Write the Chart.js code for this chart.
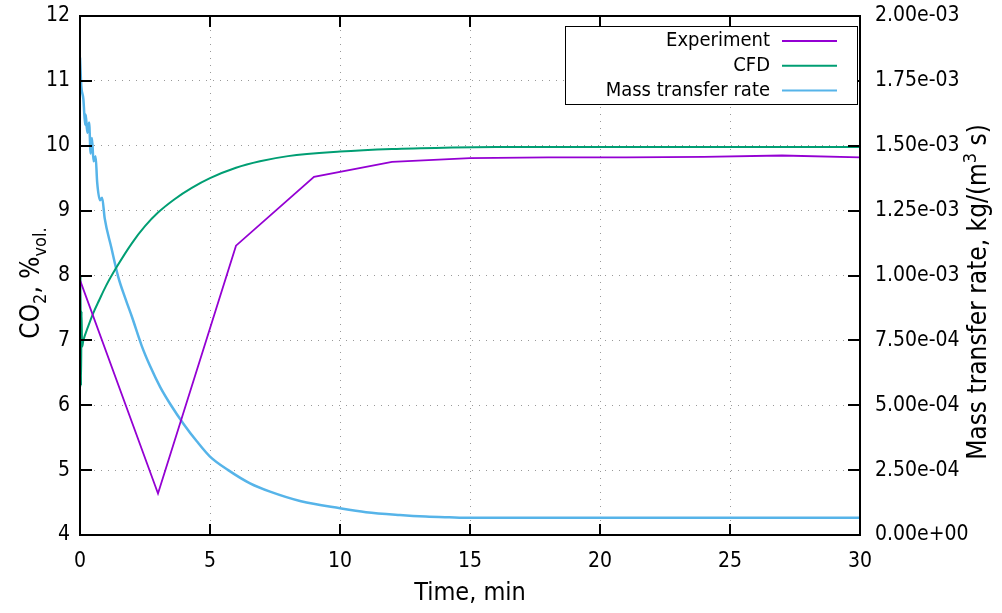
<!DOCTYPE html>
<html>
<head>
<meta charset="utf-8">
<script src="https://cdn.jsdelivr.net/npm/chart.js@4"></script>
<style>
  html, body { margin: 0; padding: 0; background: #fff; }
  #wrap { width: 1002px; height: 613px; }
</style>
</head>
<body>
<div id="wrap"><canvas id="chart" width="1002" height="613"></canvas></div>
<script>
// Experiment, CO2 %vol. (every 3 min)
const timeExp = [0, 3, 6, 9, 12, 15, 18, 21, 24, 27, 30];
const co2Exp = [7.93, 4.64, 8.46, 9.52, 9.75, 9.81, 9.82, 9.82, 9.83, 9.85, 9.82];

// CFD, CO2 %vol.
const timeCfd = [0, 0.02, 0.04, 0.06, 0.08, 0.13, 0.3, 0.51, 0.75, 1.0, 1.41, 2.0, 2.5, 3.0, 3.65, 4.3, 5.0, 6.0, 6.92, 8.0, 10.0, 12.0, 14.0, 16.0, 30.0];
const co2Cfd = [6.28, 8.0, 6.3, 7.45, 6.9, 7.0, 7.2, 7.42, 7.63, 7.84, 8.13, 8.5, 8.76, 8.97, 9.18, 9.35, 9.5, 9.66, 9.76, 9.84, 9.91, 9.95, 9.97, 9.98, 9.98];

// Mass transfer rate, kg/(m3 s)
const timeRate = [0, 0.05, 0.13, 0.2, 0.22, 0.28, 0.35, 0.41, 0.46, 0.52, 0.6, 0.66, 0.77, 0.85, 0.95,
  1.2, 1.47, 1.75, 2.0, 2.37, 2.7, 3.08, 3.5, 3.97, 4.5, 5.0, 5.7, 6.54, 7.31, 8.5, 10.0, 11.0, 12.3, 13.3, 14.2, 15.0, 30.0];
const massRate = [1.84e-3, 1.73e-3, 1.68e-3, 1.58e-3, 1.62e-3, 1.55e-3, 1.59e-3, 1.47e-3, 1.53e-3, 1.44e-3, 1.46e-3, 1.36e-3, 1.29e-3, 1.30e-3, 1.22e-3,
  1.11e-3, 0.995e-3, 0.91e-3, 0.84e-3, 0.73e-3, 0.65e-3, 0.571e-3, 0.50e-3, 0.43e-3, 0.36e-3, 0.302e-3, 0.25e-3, 0.199e-3, 0.167e-3, 0.13e-3,
  0.103e-3, 0.088e-3, 0.077e-3, 0.071e-3, 0.068e-3, 0.066e-3, 0.066e-3];

const FONT = '"DejaVu Sans Condensed", "DejaVu Sans", sans-serif';

function sci(v) {
    const parts = Number(v).toExponential(2).split('e');
    const exp = parts[1];
    return parts[0] + 'e' + exp[0] + exp.slice(1).padStart(2, '0');
}

function pts(xs, ys) {
    return xs.map((x, i) => ({ x: x, y: ys[i] }));
}

// draw text with sub/superscript pieces, centred at (0,0) after transform
function drawRich(ctx, parts, size) {
    const small = Math.round(size * 0.7);
    let w = 0;
    parts.forEach(p => {
        ctx.font = (p.sub || p.sup ? small : size) + 'px ' + FONT;
        p.w = ctx.measureText(p.t).width;
        w += p.w;
    });
    let x = -w / 2;
    ctx.textAlign = 'left';
    ctx.textBaseline = 'alphabetic';
    parts.forEach(p => {
        ctx.font = (p.sub || p.sup ? small : size) + 'px ' + FONT;
        let dy = size * 0.36;
        if (p.sub) dy += size * 0.25;
        if (p.sup) dy -= size * 0.4;
        ctx.fillText(p.t, x, dy);
        x += p.w;
    });
}

const framePlugin = {
    id: 'frame',
    afterDatasetsDraw(chart) {
        const ctx = chart.ctx;
        const a = chart.chartArea;
        const xs = chart.scales.x, ys = chart.scales.y, y2 = chart.scales.y2;
        ctx.save();
        ctx.strokeStyle = '#000';
        ctx.lineWidth = 2;
        ctx.strokeRect(a.left, a.top, a.right - a.left, a.bottom - a.top);
        ctx.beginPath();
        xs.ticks.forEach(t => {
            const px = Math.round(xs.getPixelForValue(t.value));
            ctx.moveTo(px, a.bottom); ctx.lineTo(px, a.bottom - 11);
            ctx.moveTo(px, a.top); ctx.lineTo(px, a.top + 11);
        });
        ys.ticks.forEach(t => {
            const py = Math.round(ys.getPixelForValue(t.value));
            ctx.moveTo(a.left, py); ctx.lineTo(a.left + 12, py);
        });
        y2.ticks.forEach(t => {
            const py = Math.round(y2.getPixelForValue(t.value));
            ctx.moveTo(a.right, py); ctx.lineTo(a.right - 12, py);
        });
        ctx.stroke();

        // legend box
        const bx = a.right - 295, by = a.top + 10, bw = 292, bh = 78;
        ctx.fillStyle = '#fff';
        ctx.fillRect(bx, by, bw, bh);
        ctx.lineWidth = 1;
        ctx.strokeRect(bx + 0.5, by + 0.5, bw, bh);
        ctx.font = '20px ' + FONT;
        ctx.textAlign = 'right';
        ctx.textBaseline = 'middle';
        chart.data.datasets.forEach((ds, i) => {
            const cy = by + 15 + i * 24.7;
            ctx.fillStyle = '#000';
            ctx.fillText(ds.label, bx + 205, cy);
            ctx.strokeStyle = ds.borderColor;
            ctx.lineWidth = 2;
            ctx.beginPath();
            ctx.moveTo(bx + 217, cy);
            ctx.lineTo(bx + 272, cy);
            ctx.stroke();
        });
        ctx.restore();
    },
    afterDraw(chart) {
        const ctx = chart.ctx;
        const a = chart.chartArea;
        ctx.save();
        ctx.fillStyle = '#000';
        ctx.translate((a.left + a.right) / 2, 591);
        drawRich(ctx, [{ t: 'Time, min' }], 25);
        ctx.restore();
        ctx.save();
        ctx.fillStyle = '#000';
        ctx.translate(30, 283);
        ctx.rotate(-Math.PI / 2);
        drawRich(ctx, [{ t: 'CO' }, { t: '2', sub: true }, { t: ', %' }, { t: 'vol.', sub: true }], 26);
        ctx.restore();
        ctx.save();
        ctx.fillStyle = '#000';
        ctx.translate(977, 292);
        ctx.rotate(-Math.PI / 2);
        drawRich(ctx, [{ t: 'Mass transfer rate, kg/(m' }, { t: '3', sup: true }, { t: ' s)' }], 26);
        ctx.restore();
    }
};

const gridColor = (lo, hi) => ctx => {
    const v = ctx.tick ? ctx.tick.value : null;
    return (v === lo || v === hi) ? 'rgba(0,0,0,0)' : '#999999';
};

const fitY = w => s => { s.width = w; s.paddingTop = 0; s.paddingBottom = 0; };

const chart = new Chart(document.getElementById('chart').getContext('2d'), {
    type: 'line',
    data: {
        datasets: [
            {
                label: 'Experiment',
                data: pts(timeExp, co2Exp),
                borderColor: '#9400d3',
                borderWidth: 1.8,
                yAxisID: 'y'
            },
            {
                label: 'CFD',
                data: pts(timeCfd, co2Cfd),
                borderColor: '#009e73',
                borderWidth: 2,
                cubicInterpolationMode: 'monotone',
                yAxisID: 'y'
            },
            {
                label: 'Mass transfer rate',
                data: pts(timeRate, massRate),
                borderColor: '#56b4e9',
                borderWidth: 2.5,
                cubicInterpolationMode: 'monotone',
                yAxisID: 'y2'
            }
        ]
    },
    options: {
        responsive: false,
        animation: false,
        events: [],
        elements: { point: { radius: 0 }, line: { tension: 0 } },
        layout: { padding: { top: 16, left: 0, right: 0, bottom: 0 } },
        plugins: {
            legend: { display: false },
            tooltip: { enabled: false }
        },
        scales: {
            x: {
                type: 'linear',
                min: 0,
                max: 30,
                ticks: {
                    stepSize: 5,
                    color: '#000',
                    padding: 14,
                    maxRotation: 0,
                    font: { family: FONT, size: 21 }
                },
                grid: { color: gridColor(0, 30), lineWidth: 1, drawTicks: false },
                border: { display: false, dash: [1, 6] },
                afterFit: s => { s.height = 78; s.paddingLeft = 0; s.paddingRight = 0; }
            },
            y: {
                position: 'left',
                min: 4,
                max: 12,
                ticks: {
                    stepSize: 1,
                    color: '#000',
                    padding: 10,
                    font: { family: FONT, size: 21 }
                },
                grid: { color: gridColor(4, 12), lineWidth: 1, drawTicks: false },
                border: { display: false, dash: [1, 6] },
                afterFit: fitY(80)
            },
            y2: {
                position: 'right',
                min: 0,
                max: 0.002,
                ticks: {
                    stepSize: 0.00025,
                    color: '#000',
                    padding: 15,
                    font: { family: FONT, size: 21 },
                    callback: v => sci(v)
                },
                grid: { drawOnChartArea: false, drawTicks: false },
                border: { display: false },
                afterFit: fitY(142)
            }
        }
    },
    plugins: [framePlugin]
});
</script>
</body>
</html>
